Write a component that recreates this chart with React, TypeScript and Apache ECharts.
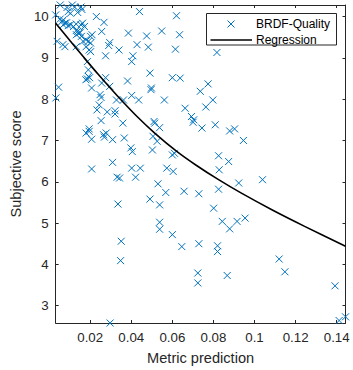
import React, { useEffect, useRef } from "react";
import * as echarts from "echarts";

const metricPrediction = [
  0.0054, 0.0087, 0.0113, 0.0124, 0.0155, 0.016, 0.0032, 0.0093, 0.0104, 0.0139,
  0.0054, 0.0062, 0.0069, 0.0077, 0.0069, 0.0085, 0.0093, 0.0104, 0.0119, 0.0132,
  0.0155, 0.0163, 0.0172, 0.0139, 0.0144, 0.0151, 0.0132, 0.0133, 0.0157, 0.0202,
  0.0209, 0.0191, 0.0202, 0.0179, 0.0165, 0.0077, 0.0067, 0.0039, 0.0132, 0.018,
  0.0195, 0.0202, 0.023, 0.0267, 0.0256, 0.0295, 0.029, 0.0275, 0.034, 0.0386,
  0.0428, 0.0408, 0.0402, 0.044, 0.0475, 0.0483, 0.0548, 0.062, 0.0635, 0.0615,
  0.0491, 0.0382, 0.0498, 0.0496, 0.06, 0.0638, 0.0186, 0.0191, 0.0191, 0.0179,
  0.0186, 0.0197, 0.0207, 0.0046, 0.0033, 0.0275, 0.0256, 0.0295, 0.0248, 0.0253,
  0.0244, 0.0233, 0.0283, 0.0321, 0.0321, 0.0253, 0.0328, 0.0362, 0.0402, 0.0436,
  0.0561, 0.0359, 0.0511, 0.0514, 0.0538, 0.0662, 0.0693, 0.0704, 0.0701, 0.0817,
  0.0774, 0.0736, 0.0797, 0.0763, 0.0744, 0.0809, 0.0879, 0.0903, 0.0946, 0.0195,
  0.018, 0.0195, 0.0207, 0.0265, 0.0278, 0.0269, 0.0309, 0.0366, 0.0398, 0.0405,
  0.0309, 0.0207, 0.0402, 0.0444, 0.0331, 0.0343, 0.0421, 0.0506, 0.0526, 0.0503,
  0.06, 0.061, 0.0573, 0.0604, 0.053, 0.0568, 0.0491, 0.0657, 0.0335, 0.0538,
  0.0351, 0.0348, 0.0297, 0.0538, 0.0538, 0.06, 0.0646, 0.0729, 0.082, 0.082,
  0.112, 0.1148, 0.0724, 0.0724, 0.0867, 0.1392, 0.1412, 0.1443, 0.0825, 0.0874,
  0.0828, 0.0923, 0.1039, 0.0729, 0.0825, 0.0801, 0.0843, 0.0879, 0.0915, 0.0954,
];

const subjectiveScore = [
  10.28, 10.22, 10.28, 10.23, 10.23, 10.17, 10.04, 10.12, 10.08, 10.1,
  9.94, 9.88, 9.92, 9.84, 9.8, 9.85, 9.78, 9.8, 9.76, 9.82,
  9.8, 9.84, 9.76, 9.64, 9.6, 9.61, 9.66, 9.56, 9.52, 9.52,
  9.56, 9.4, 9.36, 9.44, 9.4, 9.27, 9.32, 9.4, 9.27, 9.27,
  9.19, 9.15, 10.0, 9.86, 9.64, 9.37, 9.3, 9.05, 9.19, 9.6,
  9.32, 9.05, 8.91, 10.12, 9.53, 9.26, 9.65, 10.02, 9.56, 9.21,
  8.63, 8.44, 8.27, 8.23, 8.52, 8.51, 8.91, 8.71, 8.55, 8.47,
  8.49, 8.52, 8.27, 8.29, 8.03, 8.52, 8.39, 8.31, 8.11, 8.04,
  7.86, 7.74, 7.69, 7.72, 7.64, 7.48, 7.98, 7.98, 8.09, 7.98,
  7.98, 7.42, 7.46, 7.42, 7.31, 7.78, 7.58, 7.5, 7.44, 9.13,
  8.37, 8.19, 7.98, 7.81, 7.3, 7.38, 7.23, 7.28, 7.0, 7.28,
  7.18, 7.22, 7.03, 7.14, 7.18, 7.08, 7.02, 7.06, 6.82, 6.73,
  6.47, 6.31, 6.33, 6.33, 6.11, 6.09, 6.11, 7.1, 6.98, 6.77,
  6.65, 6.69, 6.33, 6.25, 5.95, 5.74, 5.58, 5.77, 5.46, 5.44,
  4.56, 4.09, 2.58, 5.02, 4.85, 4.72, 4.43, 4.5, 4.45, 4.31,
  4.13, 3.82, 3.79, 3.55, 3.73, 3.48, 2.64, 2.73, 6.63, 6.49,
  6.29, 5.97, 6.05, 5.71, 5.82, 5.36, 5.04, 4.86, 5.04, 5.12,
];

const regressionX = [0.0032, 0.0101, 0.0171, 0.0241, 0.0334, 0.0428, 0.0514, 0.0623, 0.0716, 0.0825, 0.0934, 0.1089, 0.1244, 0.1443];
const regressionY = [9.84, 9.42, 9.0, 8.59, 8.07, 7.58, 7.18, 6.73, 6.4, 6.05, 5.73, 5.31, 4.92, 4.44];

const xTicks = [0.02, 0.04, 0.06, 0.08, 0.1, 0.12, 0.14];
const yTicks = [3, 4, 5, 6, 7, 8, 9, 10];

const X_MIN = 0.0032;
const X_MAX = 0.1443;
const Y_MIN = 2.58;
const Y_MAX = 10.28;

const FONT = '"Liberation Sans", Arial, Helvetica, sans-serif';
const AXIS_COLOR = "#262626";
const BLUE = "#0072BD";

export default function App() {
  const ref = useRef<HTMLDivElement>(null);

  useEffect(() => {
    if (!ref.current) return;
    const chart = echarts.init(ref.current, null, { renderer: "svg" });

    const scatterData = metricPrediction.map((x, i) => [x, subjectiveScore[i]]);
    const lineData = regressionX.map((x, i) => [x, regressionY[i]]);

    const axisLine = { show: true, lineStyle: { color: AXIS_COLOR, width: 1 } };

    const option: any = {
      animation: false,
      grid: { left: 43, right: 7.5, top: 5, bottom: 47, containLabel: false },
      xAxis: [
        {
          type: "value",
          min: X_MIN,
          max: X_MAX,
          position: "bottom",
          name: "Metric prediction",
          nameLocation: "middle",
          nameGap: 27,
          nameTextStyle: { color: AXIS_COLOR, fontFamily: FONT, fontSize: 14.6 },
          axisLine,
          axisTick: { show: true, inside: true, length: 3, customValues: xTicks, lineStyle: { color: AXIS_COLOR } },
          axisLabel: {
            show: true,
            customValues: xTicks,
            color: AXIS_COLOR,
            fontFamily: FONT,
            fontSize: 13.3,
            margin: 8,
            formatter: (v: number) => String(parseFloat(v.toFixed(4))),
          },
          splitLine: { show: false },
        },
        {
          type: "value",
          min: X_MIN,
          max: X_MAX,
          position: "top",
          axisLine,
          axisTick: { show: true, inside: true, length: 3, customValues: xTicks, lineStyle: { color: AXIS_COLOR } },
          axisLabel: { show: false },
          splitLine: { show: false },
        },
      ],
      yAxis: [
        {
          type: "value",
          min: Y_MIN,
          max: Y_MAX,
          position: "left",
          name: "Subjective score",
          nameLocation: "middle",
          nameGap: 31,
          nameTextStyle: { color: AXIS_COLOR, fontFamily: FONT, fontSize: 14.6 },
          axisLine,
          axisTick: { show: true, inside: true, length: 3, customValues: yTicks, lineStyle: { color: AXIS_COLOR } },
          axisLabel: {
            show: true,
            customValues: yTicks,
            color: AXIS_COLOR,
            fontFamily: FONT,
            fontSize: 13.3,
            margin: 7,
          },
          splitLine: { show: false },
        },
        {
          type: "value",
          min: Y_MIN,
          max: Y_MAX,
          position: "right",
          axisLine,
          axisTick: { show: true, inside: true, length: 3, customValues: yTicks, lineStyle: { color: AXIS_COLOR } },
          axisLabel: { show: false },
          splitLine: { show: false },
        },
      ],
      series: [
        {
          name: "BRDF-Quality",
          type: "scatter",
          xAxisIndex: 0,
          yAxisIndex: 0,
          data: scatterData,
          symbol: "path://M0,0L7,7M7,0L0,7",
          symbolSize: 7,
          clip: false,
          itemStyle: { color: "rgba(0,0,0,0)", borderColor: BLUE, borderWidth: 1, opacity: 1 },
          emphasis: { disabled: true },
          z: 3,
        },
        {
          name: "Regression",
          type: "line",
          xAxisIndex: 0,
          yAxisIndex: 0,
          data: lineData,
          smooth: 0.3,
          showSymbol: false,
          symbol: "none",
          lineStyle: { color: "#000000", width: 1.6 },
          emphasis: { disabled: true },
          z: 4,
        },
      ],
      graphic: [
        {
          type: "rect",
          shape: { x: 206.5, y: 13.5, width: 130, height: 31.5 },
          style: { fill: "#ffffff", stroke: AXIS_COLOR, lineWidth: 1 },
          z: 100,
        },
        {
          type: "line",
          shape: { x1: 227.5, y1: 20.5, x2: 234.5, y2: 27.5 },
          style: { stroke: BLUE, lineWidth: 1 },
          z: 101,
        },
        {
          type: "line",
          shape: { x1: 234.5, y1: 20.5, x2: 227.5, y2: 27.5 },
          style: { stroke: BLUE, lineWidth: 1 },
          z: 101,
        },
        {
          type: "line",
          shape: { x1: 210.5, y1: 40, x2: 252, y2: 40 },
          style: { stroke: "#000000", lineWidth: 1.6 },
          z: 101,
        },
        {
          type: "text",
          x: 256,
          y: 24,
          style: { text: "BRDF-Quality", fill: "#000000", font: `12px ${FONT}`, align: "left", verticalAlign: "middle" },
          z: 101,
        },
        {
          type: "text",
          x: 256,
          y: 40,
          style: { text: "Regression", fill: "#000000", font: `12px ${FONT}`, align: "left", verticalAlign: "middle" },
          z: 101,
        },
      ],
    };

    chart.setOption(option);
    return () => chart.dispose();
  }, []);

  return (
    <div
      ref={ref}
      style={{ position: "absolute", left: 0, top: 0, width: 353, height: 370, background: "#ffffff" }}
    />
  );
}
